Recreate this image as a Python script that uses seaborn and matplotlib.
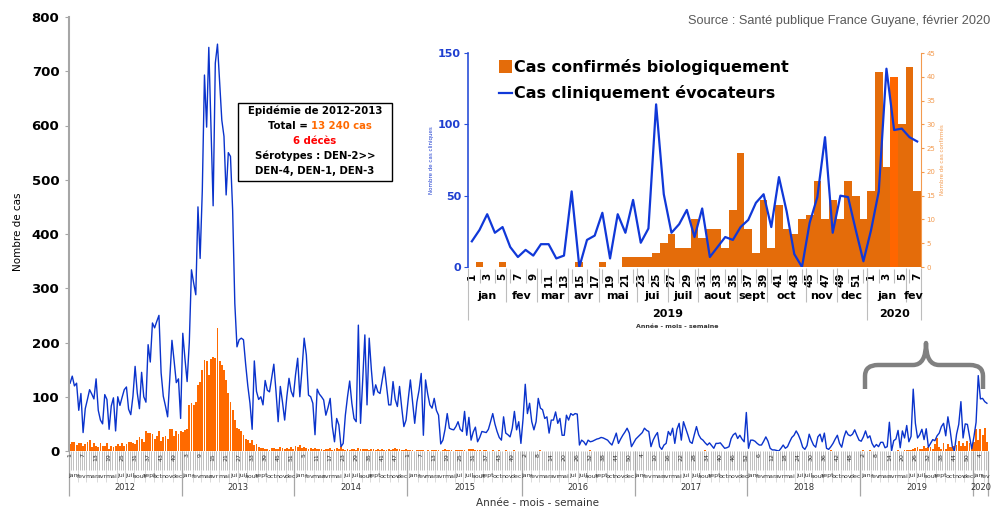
import datetime

import matplotlib
matplotlib.use("Agg")
import matplotlib.pyplot as plt
import numpy as np
import pandas as pd
import seaborn as sns
from matplotlib.collections import LineCollection
from matplotlib.lines import Line2D
from matplotlib.patches import Patch, PathPatch, Rectangle
from matplotlib.path import Path
from matplotlib.transforms import blended_transform_factory

# --- données hebdomadaires ---
annees = [2012, 2013, 2014, 2015, 2016, 2017, 2018, 2019, 2020]
nb_semaines = [52, 52, 52, 53, 52, 52, 52, 52, 7]

cliniques_2012 = [125, 138, 120, 125, 75, 106, 34, 78, 95, 113,
                  105, 96, 133, 75, 57, 50, 104, 95, 40, 83,
                  98, 37, 100, 84, 99, 113, 118, 77, 67, 101,
                  156, 107, 78, 145, 100, 90, 196, 164, 236, 227,
                  239, 250, 144, 101, 83, 63, 132, 204, 166, 126,
                  133, 60]
cliniques_2013 = [217, 170, 128, 200, 334, 310, 288, 450, 355, 480,
                  693, 597, 744, 600, 452, 715, 750, 680, 610, 580,
                  472, 550, 543, 444, 272, 192, 205, 208, 205, 160,
                  120, 88, 40, 166, 110, 95, 100, 85, 130, 112,
                  109, 135, 160, 110, 54, 119, 90, 57, 100, 134,
                  110, 100]
cliniques_2014 = [140, 171, 100, 150, 208, 177, 103, 100, 88, 30,
                  114, 105, 100, 94, 66, 80, 97, 45, 17, 60,
                  48, 8, 14, 66, 100, 129, 88, 60, 54, 232,
                  51, 130, 214, 85, 208, 150, 103, 122, 109, 106,
                  130, 155, 120, 85, 85, 128, 95, 82, 119, 80,
                  45, 57]
cliniques_2015 = [95, 131, 90, 51, 90, 112, 143, 29, 131, 105,
                  85, 79, 97, 75, 66, 13, 20, 40, 69, 42,
                  40, 39, 45, 54, 40, 36, 73, 29, 62, 20,
                  35, 44, 17, 25, 36, 35, 34, 40, 54, 69,
                  50, 36, 25, 20, 63, 33, 30, 26, 42, 73,
                  39, 54, 14]
cliniques_2016 = [60, 123, 69, 88, 54, 39, 54, 97, 79, 76,
                  60, 63, 33, 57, 57, 72, 51, 60, 29, 29,
                  66, 57, 69, 66, 69, 68, 11, 20, 17, 11,
                  20, 17, 18, 20, 22, 23, 25, 24, 22, 20,
                  15, 11, 22, 33, 14, 22, 29, 35, 42, 33,
                  8, 15]
cliniques_2017 = [22, 26, 30, 34, 42, 38, 36, 8, 20, 28,
                  34, 8, 3, 11, 14, 36, 29, 42, 14, 40,
                  51, 20, 54, 42, 30, 17, 14, 30, 45, 30,
                  23, 20, 15, 11, 15, 10, 5, 14, 14, 15,
                  10, 5, 6, 8, 23, 30, 33, 23, 29, 22,
                  17, 71]
cliniques_2018 = [5, 20, 20, 18, 14, 11, 11, 18, 26, 18,
                  5, 2, 2, 1, 0, 5, 11, 5, 8, 17,
                  25, 29, 37, 30, 20, 7, 3, 10, 31, 20,
                  11, 7, 26, 31, 17, 33, 5, 3, 8, 14,
                  22, 29, 14, 7, 25, 37, 30, 28, 31, 39,
                  29, 20]
cliniques_2019 = [18, 26, 37, 24, 28, 14, 7, 12, 8, 16,
                  16, 6, 8, 53, 0, 19, 22, 38, 6, 37,
                  24, 47, 17, 27, 114, 51, 24, 30, 40, 21,
                  41, 7, 14, 21, 19, 28, 33, 45, 51, 28,
                  63, 39, 9, 0, 31, 49, 91, 24, 50, 49,
                  26, 4]
cliniques_2020 = [26, 53, 139, 96, 97, 91, 88]

confirmes_2012 = [13, 17, 16, 11, 15, 14, 10, 12, 16, 20,
                  8, 15, 10, 7, 15, 9, 9, 15, 3, 10,
                  8, 10, 12, 9, 15, 10, 12, 16, 17, 15,
                  12, 20, 26, 22, 17, 37, 34, 33, 31, 23,
                  28, 37, 18, 26, 27, 23, 40, 41, 27, 37,
                  31, 37]
confirmes_2013 = [35, 38, 40, 85, 88, 84, 90, 122, 128, 150,
                  168, 165, 140, 170, 174, 172, 226, 165, 158, 150,
                  130, 106, 90, 76, 57, 42, 40, 36, 29, 23,
                  20, 14, 20, 11, 12, 8, 5, 6, 3, 4,
                  2, 5, 6, 4, 3, 7, 5, 3, 6, 4,
                  8, 3]
confirmes_2014 = [9, 7, 11, 6, 8, 5, 4, 6, 3, 5,
                  4, 3, 3, 2, 4, 3, 5, 2, 3, 6,
                  4, 9, 3, 2, 3, 2, 4, 3, 2, 5,
                  3, 4, 3, 4, 2, 3, 4, 2, 3, 2,
                  3, 2, 2, 3, 2, 4, 5, 4, 3, 2,
                  2, 3]
confirmes_2015 = [1, 2, 1, 0, 1, 2, 1, 1, 0, 1,
                  0, 1, 1, 2, 1, 0, 2, 3, 2, 1,
                  1, 0, 1, 1, 2, 1, 1, 0, 3, 4,
                  3, 2, 1, 1, 0, 1, 1, 0, 0, 1,
                  0, 0, 1, 0, 0, 1, 0, 0, 0, 1,
                  0, 0, 0]
confirmes_2016 = [0, 0, 0, 0, 0, 0, 0, 0, 2, 0,
                  0, 0, 0, 0, 0, 0, 0, 0, 0, 0,
                  0, 0, 0, 0, 0, 0, 0, 0, 0, 0,
                  0, 2, 0, 0, 0, 0, 0, 0, 0, 0,
                  0, 0, 0, 0, 0, 0, 0, 0, 0, 0,
                  0, 0]
confirmes_2017 = [0, 0, 0, 0, 0, 0, 0, 0, 0, 0,
                  0, 0, 0, 0, 0, 0, 0, 0, 0, 0,
                  0, 0, 0, 0, 0, 0, 0, 0, 0, 0,
                  0, 0, 1, 0, 0, 0, 0, 0, 0, 0,
                  0, 0, 0, 0, 0, 0, 0, 0, 0, 0,
                  0, 0]
confirmes_2018 = [0, 0, 0, 0, 0, 0, 0, 0, 0, 0,
                  0, 0, 0, 0, 0, 0, 0, 0, 0, 0,
                  0, 0, 0, 0, 0, 0, 0, 0, 0, 0,
                  0, 0, 0, 0, 0, 0, 0, 0, 1, 0,
                  0, 0, 0, 0, 0, 0, 0, 0, 0, 0,
                  0, 0]
confirmes_2019 = [0, 1, 0, 0, 1, 0, 0, 0, 0, 0,
                  0, 0, 0, 0, 1, 0, 0, 1, 0, 0,
                  2, 2, 2, 2, 3, 5, 7, 4, 4, 10,
                  6, 8, 8, 4, 12, 24, 8, 3, 14, 4,
                  13, 8, 7, 10, 11, 18, 10, 14, 10, 18,
                  15, 10]
confirmes_2020 = [16, 41, 21, 40, 30, 42, 16]

mois_noms = ["jan", "fev", "mar", "avr", "mai", "jui",
             "juil", "aout", "sept", "oct", "nov", "dec"]

cliniques_par_an = [cliniques_2012, cliniques_2013, cliniques_2014, cliniques_2015,
                    cliniques_2016, cliniques_2017, cliniques_2018, cliniques_2019,
                    cliniques_2020]
confirmes_par_an = [confirmes_2012, confirmes_2013, confirmes_2014, confirmes_2015,
                    confirmes_2016, confirmes_2017, confirmes_2018, confirmes_2019,
                    confirmes_2020]

rows = []
for annee, nb, cl, co in zip(annees, nb_semaines, cliniques_par_an, confirmes_par_an):
    assert len(cl) == nb and len(co) == nb, annee
    for s in range(nb):
        rows.append((annee, s + 1, cl[s], co[s]))
df = pd.DataFrame(rows, columns=["annee", "semaine", "cliniques", "confirmes"])
df["pos"] = np.arange(len(df))
df["mois"] = [datetime.date.fromisocalendar(a, s, 4).month
              for a, s in zip(df.annee, df.semaine)]

ORANGE = "#FF6A00"
ORANGE_ZOOM = "#E46C0A"
ORANGE_AXE = "#F39A4E"
BLEU = "#0A33CC"
GRIS = "#A6A6A6"

W, H = 1005, 508


def fx(px):
    return px / W


def fy(py):
    return 1 - py / H


fig = plt.figure(figsize=(W / 100, H / 100), dpi=100)


def vlignes(axe, xs, y0, y1, couleur, lw):
    tr = blended_transform_factory(axe.transData, fig.transFigure)
    segs = [[(x, fy(y0)), (x, fy(y1))] for x in xs]
    lc = LineCollection(segs, colors=couleur, linewidths=lw, transform=tr, clip_on=False)
    axe.add_collection(lc, autolim=False)


def groupes(d, cles):
    g = d.groupby(cles, sort=False)["pos"].agg(["min", "max"]).reset_index()
    return g


# --- graphique principal ---
ax = fig.add_axes([fx(69), fy(451), fx(988) - fx(69), fy(17) - fy(451)])
sns.barplot(data=df, x="pos", y="confirmes", native_scale=True, color=ORANGE,
            saturation=1, width=0.85, errorbar=None, linewidth=0, ax=ax)
sns.lineplot(data=df, x="pos", y="cliniques", color=BLEU, linewidth=1.0,
             estimator=None, ax=ax)
n = len(df)
ax.set_xlim(-0.5, n - 0.5)
ax.set_ylim(0, 800)
ax.set_xticks([])
ax.set_xlabel("")
ax.set_ylabel("")
for s in ["top", "right", "bottom"]:
    ax.spines[s].set_visible(False)
ax.spines["left"].set_color(GRIS)
ax.spines["left"].set_linewidth(1.5)
ax.set_yticks(range(0, 801, 100))
ax.tick_params(axis="y", length=3, color=GRIS, labelsize=9.5, pad=4)
for t in ax.get_yticklabels():
    t.set_fontweight("bold")
fig.text(fx(18), fy(232), "Nombre de cas", rotation=90, ha="center", va="center", fontsize=7.5)

trans = blended_transform_factory(ax.transData, fig.transFigure)
vlignes(ax, np.arange(n + 1) - 0.5, 451, 470, "#B5B5B5", 0.6)
for k in range(0, n, 6):
    ax.text(k, fy(453), str(df.semaine[k]), transform=trans, rotation=90, ha="center",
            va="top", fontsize=4.5, color="#333333", clip_on=False)
gm = groupes(df, ["annee", "mois"])
vlignes(ax, gm["min"] - 0.5, 470, 482, "#CCCCCC", 0.5)
for _, r in gm.iterrows():
    ax.text((r["min"] + r["max"]) / 2, fy(476), mois_noms[r["mois"] - 1], transform=trans,
            ha="center", va="center", fontsize=4.5, color="#333333", clip_on=False)
ga = groupes(df, ["annee"])
vlignes(ax, list(ga["min"] - 0.5) + [n - 0.5], 451, 496, GRIS, 0.9)
for _, r in ga.iterrows():
    ax.text((r["min"] + r["max"]) / 2, fy(488), str(r["annee"]), transform=trans,
            ha="center", va="center", fontsize=6, color="#333333", clip_on=False)
fig.text(fx(537), fy(503), "Année - mois - semaine", ha="center", va="center",
         fontsize=7.5, color="#333333")

fig.text(fx(990), fy(21), "Source : Santé publique France Guyane, février 2020",
         ha="right", va="center", fontsize=9.2, color="#595959", family="Liberation Sans")

# encadré épidémie
fig.add_artist(Rectangle((fx(238), fy(181)), fx(392) - fx(238), fy(103) - fy(181),
                         transform=fig.transFigure, facecolor="white", edgecolor="black", lw=1))
cx = fx(315)
fig.text(cx, fy(111), "Epidémie de 2012-2013", ha="center", va="center", fontsize=7.3, weight="bold")
fig.text(fx(311), fy(126), "Total = ", ha="right", va="center", fontsize=7.3, weight="bold")
fig.text(fx(311), fy(126), "13 240 cas", ha="left", va="center", fontsize=7.3, weight="bold",
         color="#FF6A00")
fig.text(cx, fy(141), "6 décès", ha="center", va="center", fontsize=7.3, weight="bold", color="#FF0000")
fig.text(cx, fy(156), "Sérotypes : DEN-2>>", ha="center", va="center", fontsize=7.3, weight="bold")
fig.text(cx, fy(171), "DEN-4, DEN-1, DEN-3", ha="center", va="center", fontsize=7.3, weight="bold")

# accolade
pts = [(865, 389), (865, 376), (865, 365), (878, 365), (913, 365), (926, 365), (926, 343),
       (926, 365), (939, 365), (970, 365), (983, 365), (983, 376), (983, 389)]
codes = [Path.MOVETO, Path.LINETO, Path.CURVE3, Path.CURVE3, Path.LINETO, Path.CURVE3,
         Path.CURVE3, Path.CURVE3, Path.CURVE3, Path.LINETO, Path.CURVE3, Path.CURVE3,
         Path.LINETO]
brace = Path([(fx(x), fy(y)) for x, y in pts], codes)
fig.add_artist(PathPatch(brace, transform=fig.transFigure, facecolor="none",
                         edgecolor="#808080", lw=3.2, capstyle="butt", joinstyle="round"))

# --- zoom 2019-2020 ---
dz = df[df.annee >= 2019].reset_index(drop=True)
dz["pos"] = np.arange(len(dz))
nz = len(dz)
axb = fig.add_axes([fx(468), fy(267), fx(921) - fx(468), fy(53) - fy(267)])
sns.barplot(data=dz, x="pos", y="confirmes", native_scale=True, color=ORANGE_ZOOM,
            saturation=1, width=1.0, errorbar=None, linewidth=0, ax=axb)
axb.patches[55].set_facecolor("#FF6600")
axl = axb.twinx()
sns.lineplot(data=dz, x="pos", y="cliniques", color="#1038D8", linewidth=1.6,
             estimator=None, ax=axl)
axb.set_xlim(-0.5, nz - 0.5)
axb.set_ylim(0, 45)
axl.set_ylim(0, 150)
axb.yaxis.tick_right()
axb.yaxis.set_label_position("right")
axl.yaxis.tick_left()
axl.yaxis.set_label_position("left")
axb.set_yticks(range(0, 46, 5))
axl.set_yticks([0, 50, 100, 150])
for s in ["top", "left", "bottom"]:
    axb.spines[s].set_visible(False)
for s in ["top", "right", "bottom"]:
    axl.spines[s].set_visible(False)
axb.spines["right"].set_color(ORANGE_AXE)
axl.spines["left"].set_color("#2A4FD8")
axl.spines["left"].set_linewidth(1.2)
axb.tick_params(axis="y", length=2, color=ORANGE_AXE, labelcolor=ORANGE_AXE, labelsize=5, pad=2)
axl.tick_params(axis="y", length=3, color="#2A4FD8", labelcolor="#1F3FD0", labelsize=8, pad=2)
for t in axl.get_yticklabels():
    t.set_fontweight("bold")
axb.set_ylabel("Nombre de cas confirmés", fontsize=4, color=ORANGE_AXE, labelpad=3)
axl.set_ylabel("Nombre de cas cliniques", fontsize=4, color="#1F3FD0", labelpad=3)
axb.set_xticks(range(0, nz, 2))
axb.set_xticklabels([str(s) for s in dz.semaine[::2]], rotation=90, fontsize=7.5, weight="bold")
axb.tick_params(axis="x", length=0, pad=4)
axb.set_xlabel("")
axl.set_xlabel("")

vlignes(axb, np.arange(1, nz, 2), 269, 283, "#BDBDBD", 0.8)
gmz = groupes(dz, ["annee", "mois"])
vlignes(axb, list(gmz["min"] - 0.5)[1:], 268, 302, "#BDBDBD", 0.8)
transz = blended_transform_factory(axb.transData, fig.transFigure)
for _, r in gmz.iterrows():
    axb.text((r["min"] + r["max"]) / 2, fy(296), mois_noms[r["mois"] - 1], transform=transz,
             ha="center", va="center", fontsize=8, weight="bold", clip_on=False)
gaz = groupes(dz, ["annee"])
vlignes(axb, list(gaz["min"] - 0.5) + [nz - 0.5], 268, 320, "#BDBDBD", 0.8)
for _, r in gaz.iterrows():
    axb.text((r["min"] + r["max"]) / 2, fy(314), str(r["annee"]), transform=transz,
             ha="center", va="center", fontsize=8, weight="bold", clip_on=False)
fig.text(fx(677), fy(326), "Année - mois - semaine", ha="center", va="center",
         fontsize=4.5, weight="bold", color="#333333")

handles = [Patch(facecolor=ORANGE_ZOOM), Line2D([], [], color="#1038D8", lw=1.6)]
axl.legend(handles, ["Cas confirmés biologiquement", "Cas cliniquement évocateurs"],
           loc="upper left", bbox_to_anchor=(fx(499), fy(59)), bbox_transform=fig.transFigure,
           frameon=False, prop={"weight": "bold", "size": 11.5}, handlelength=0.8,
           handleheight=0.8, handletextpad=0.15, labelspacing=0.65, borderpad=0,
           borderaxespad=0)

fig.savefig("out.png", dpi=100)
